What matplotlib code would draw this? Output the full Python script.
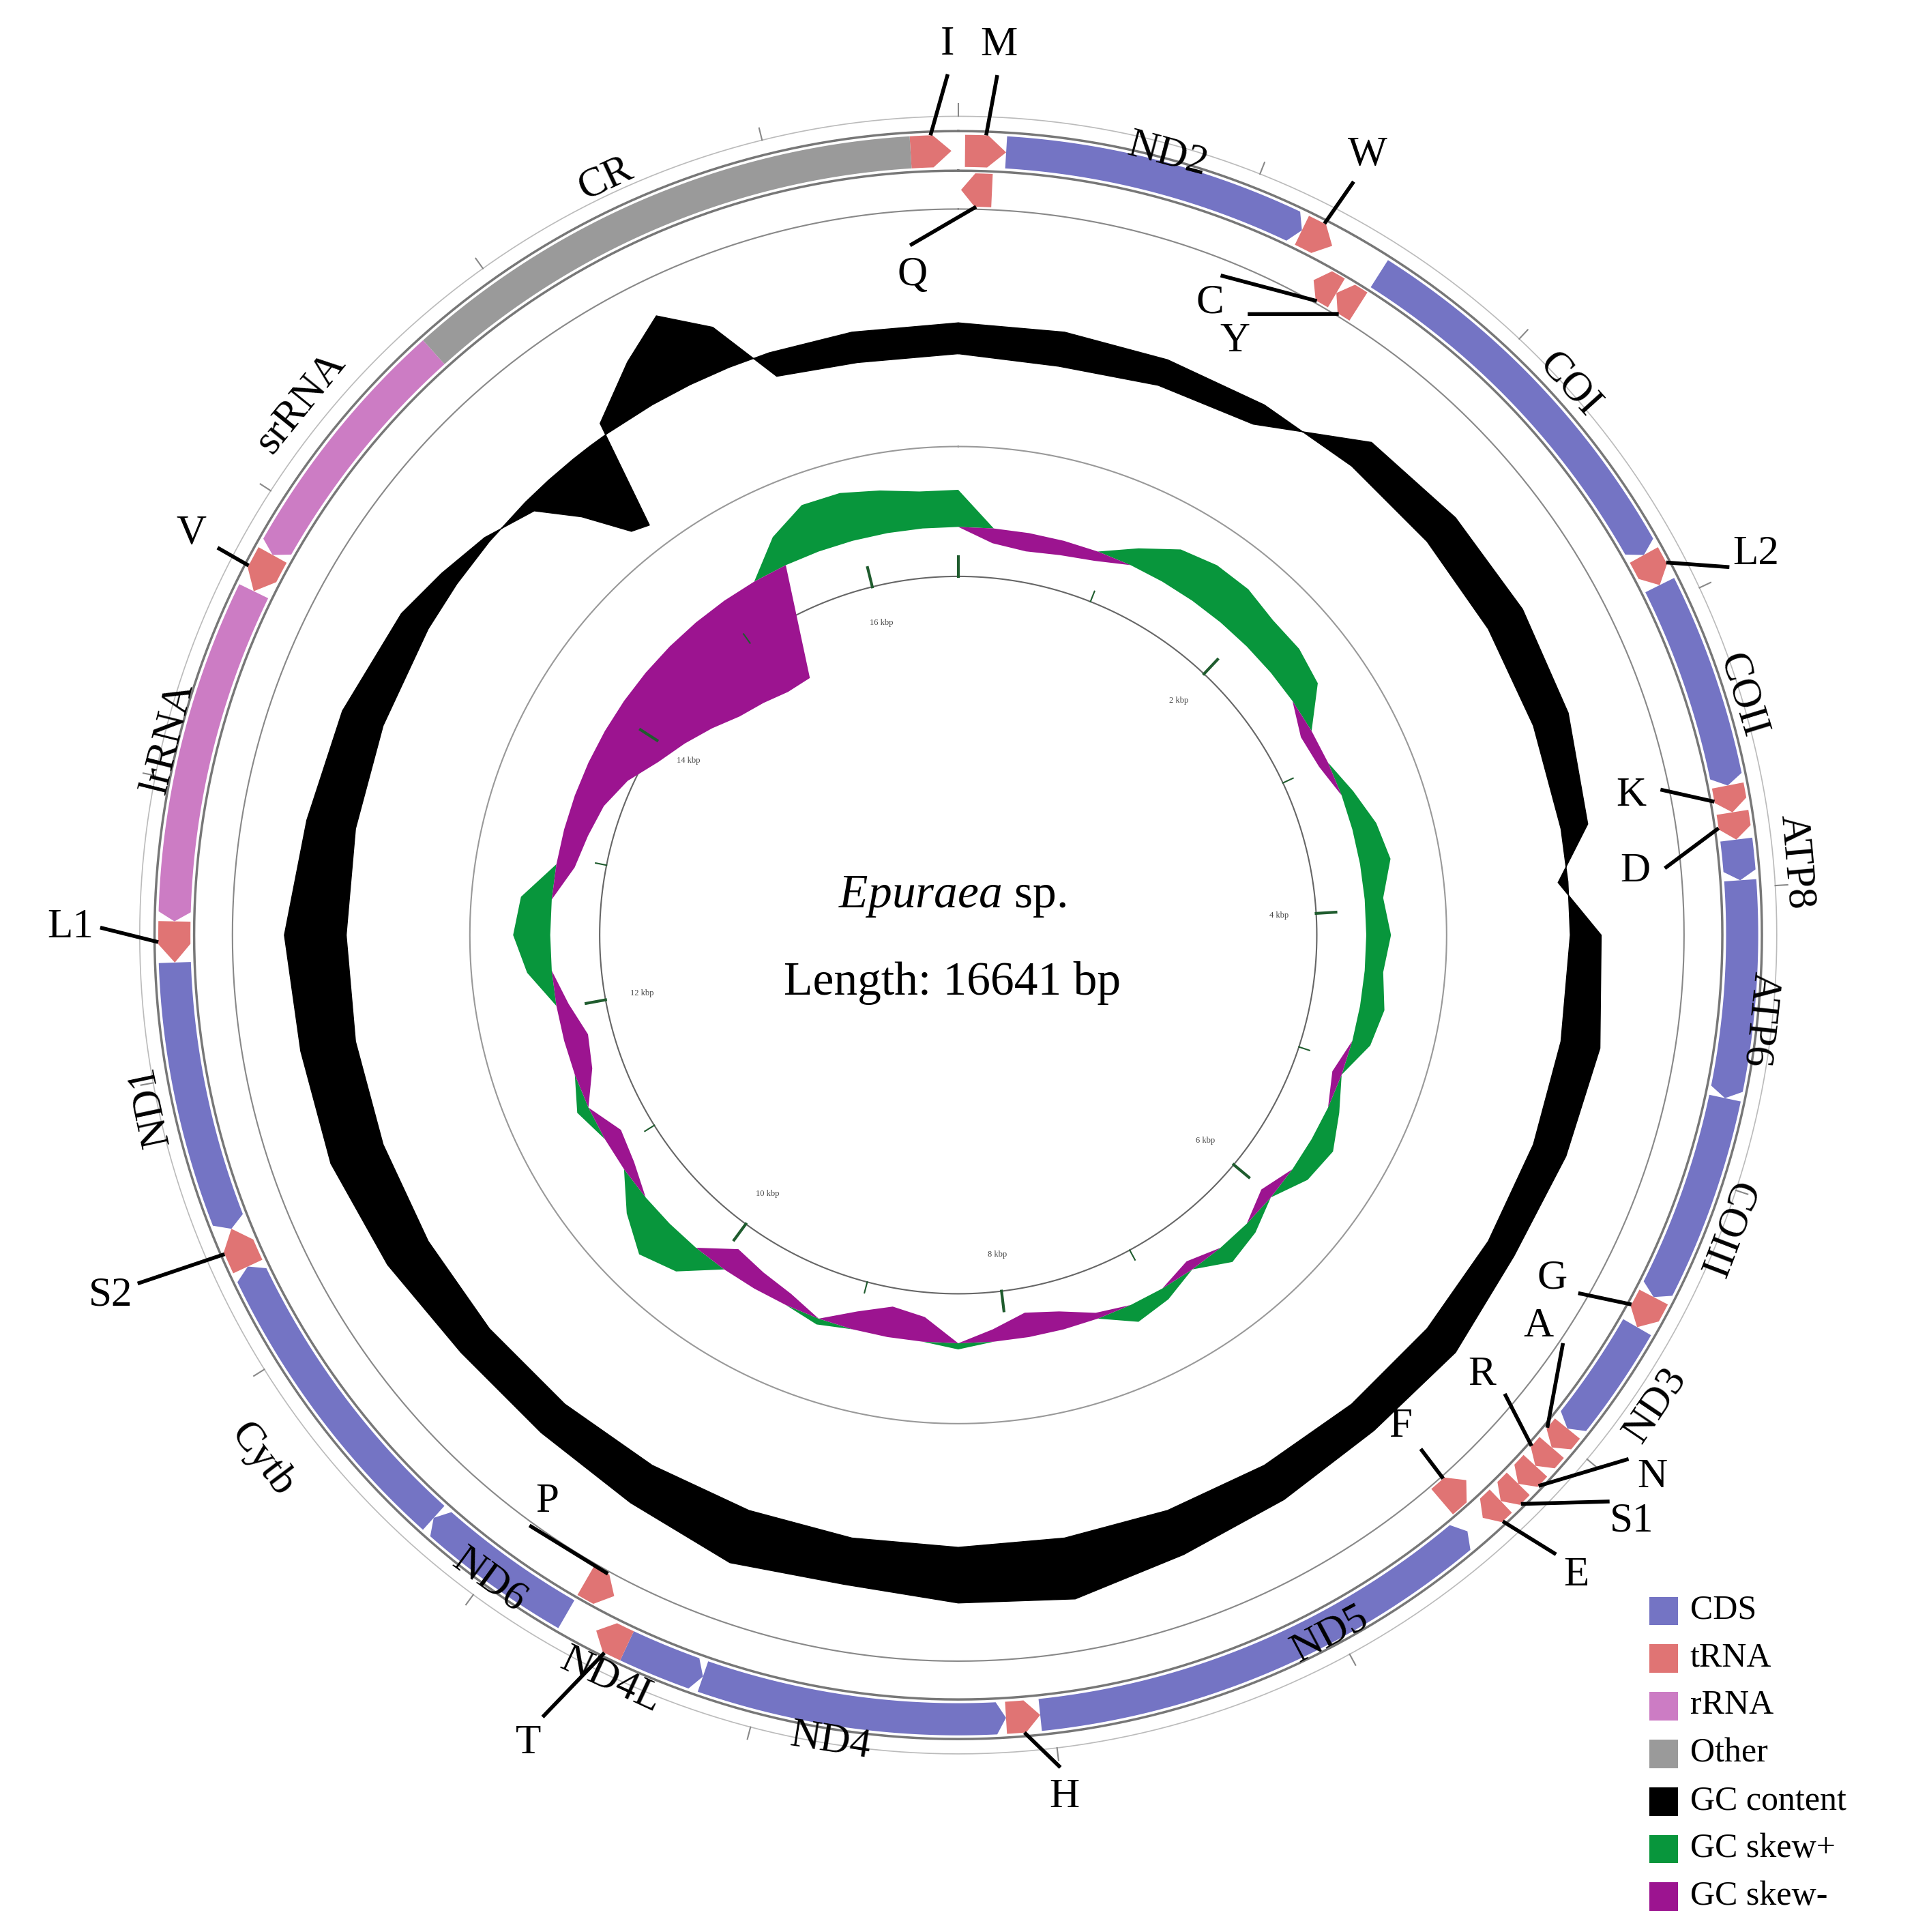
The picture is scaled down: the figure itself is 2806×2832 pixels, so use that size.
import matplotlib.pyplot as plt
import matplotlib.patches as mpatches
import numpy as np

plt.rcParams['font.family'] = ['Liberation Serif', 'DejaVu Serif']
plt.rcParams['mathtext.fontset'] = 'custom'
plt.rcParams['mathtext.it'] = 'Liberation Serif:italic'
plt.rcParams['mathtext.rm'] = 'Liberation Serif'

GENOME_LEN = 16641

# genes: name, start, end, strand, type
gene_names = ['I', 'M', 'Q', 'ND2', 'W', 'C', 'Y', 'COI', 'L2', 'COII', 'K', 'D',
              'ATP8', 'ATP6', 'COIII', 'G', 'ND3', 'A', 'R', 'N', 'S1', 'E', 'F',
              'ND5', 'H', 'ND4', 'ND4L', 'T', 'P', 'ND6', 'Cytb', 'S2', 'ND1', 'L1',
              'lrRNA', 'V', 'srRNA', 'CR']
gene_start = [16480, 23, 10, 162, 1202, 1317, 1410, 1502, 2820, 2935, 3652, 3744,
              3837, 3975, 4715, 5431, 5547, 5963, 6046, 6129, 6213, 6296, 6333,
              6448, 8043, 8159, 9199, 9476, 9592, 9707, 10262, 11325, 11464, 12388,
              12527, 13683, 13821, 14700]
gene_end = [16618, 162, 120, 1202, 1317, 1410, 1502, 2820, 2935, 3652, 3744, 3837,
            3975, 4715, 5431, 5547, 5963, 6046, 6129, 6213, 6296, 6379, 6448,
            8043, 8159, 9199, 9476, 9592, 9707, 10262, 11325, 11464, 12388, 12527,
            13683, 13821, 14700, 16480]
gene_strand = [1, 1, -1, 1, 1, -1, -1, 1, 1, 1, 1, 1,
               1, 1, 1, 1, 1, 1, 1, 1, 1, 1, -1,
               -1, -1, -1, -1, 1, -1, 1, 1, 1, -1, -1,
               -1, -1, -1, 0]
gene_type = ['tRNA', 'tRNA', 'tRNA', 'CDS', 'tRNA', 'tRNA', 'tRNA', 'CDS', 'tRNA', 'CDS',
             'tRNA', 'tRNA', 'CDS', 'CDS', 'CDS', 'tRNA', 'CDS', 'tRNA', 'tRNA', 'tRNA',
             'tRNA', 'tRNA', 'tRNA', 'CDS', 'tRNA', 'CDS', 'CDS', 'tRNA', 'tRNA', 'CDS',
             'CDS', 'tRNA', 'CDS', 'tRNA', 'rRNA', 'tRNA', 'rRNA', 'Other']
inner_ring = ['Q', 'C', 'Y', 'F', 'P']

# GC content deviation (outward +) and GC skew, sampled along the genome (degrees)
gc_angle = [0, 10, 20, 30, 40, 50, 60, 70, 80, 85, 90, 100, 110, 120, 130, 140, 150,
            160, 170, 180, 190, 200, 210, 220, 230, 240, 250, 260, 270, 280, 290,
            300, 305, 310, 315, 318, 321, 323, 325, 330, 334, 338, 342, 350, 360]
gc_dev = [-25, -28, -22, -18, 25, 30, 32, 30, 22, -8, 25, 32, 28, 24, 30, 28, 32,
          38, 50, 45, 38, 45, 35, 30, 30, 38, 45, 45, 50, 40, 35,
          25, 15, 5, -10, -40, -75, -80, 10, 40, 62, 35, -20, -25, -25]

skew_angle = list(range(0, 365, 5))
skew_val = [30, -12, -15, -12, -8, 15, 30, 35, 35, 30, 30, 25, -10, -8, 10, 20, 25, 15,
            20, 15, 20, 15, -8, 10, 20, 15, -10, 10, 15, -8, 10, 15, -5, -15, -20, -10,
            5, -20, -25, -15, 5, -10, -15, -20, 25, 35, 20, -10, -15, 10, -15, -20, -10,
            20, 30, 25, -15, -20, -25, -35, -50, -60, -70, -80, -85, -90, -90, 25, 40,
            40, 35, 30, 30]

legend_labels = ['CDS', 'tRNA', 'rRNA', 'Other', 'GC content', 'GC skew+', 'GC skew-']
colors = {'CDS': '#7474c4', 'tRNA': '#e07474', 'rRNA': '#cc7cc4', 'Other': '#9a9a9a',
          'GC content': '#000000', 'GC skew+': '#08963c', 'GC skew-': '#9c1490'}

# label layout: name -> (angle deg, radius)
gene_label_pos = {'ND2': (15, 653), 'COI': (48, 665), 'COII': (73, 663), 'ATP8': (85, 680),
                  'ATP6': (96, 652), 'COIII': (111, 664), 'ND3': (124, 680),
                  'ND5': (152, 640), 'ND4': (189, 660), 'ND4L': (205, 665), 'ND6': (216, 645),
                  'Cytb': (233, 705), 'ND1': (258, 668), 'lrRNA': (284, 658),
                  'srRNA': (309, 684), 'CR': (335, 675)}
trna_label_pos = {'I': (359.3, 720), 'M': (2.6, 720), 'Q': (356, 535), 'W': (27.7, 712),
                  'C': (21.7, 550), 'Y': (25, 530), 'L2': (64.5, 715), 'K': (78.3, 556),
                  'D': (84.6, 550), 'G': (120, 555), 'A': (124, 566), 'R': (130, 553),
                  'F': (138, 535), 'N': (128, 712), 'S1': (131, 722), 'E': (136, 720),
                  'H': (173, 702), 'T': (208, 740), 'P': (216, 566), 'S2': (247, 745),
                  'L1': (270.5, 718), 'V': (297.6, 700)}

cx, cy = 775, 756
R_OUT, R_MID, R_IN = 650, 618, 587
R_GC = 495
R_SKEW = 330
R_TICK = 290


def xy(ang, r):
    a = np.radians(ang)
    return cx + r * np.sin(a), cy - r * np.cos(a)


def bp2deg(bp):
    return bp / GENOME_LEN * 360.0


fig = plt.figure(figsize=(28.06, 28.32), dpi=100)
ax = fig.add_axes([0, 0, 1, 1])
ax.set_xlim(0, 1548)
ax.set_ylim(1562, 0)
ax.axis('off')

# thin circles
for r, c, lw in [(R_OUT, '#777777', 2.5), (R_MID, '#777777', 2.5), (R_IN, '#888888', 1.5),
                 (662, '#bbbbbb', 1.2), (395, '#999999', 1.5), (R_TICK, '#666666', 1.5)]:
    t = np.linspace(0, 360, 721)
    px, py = xy(t, r)
    ax.plot(px, py, color=c, lw=lw, zorder=2)

# small ticks on outer thin circle
for k in range(0, GENOME_LEN, 1000):
    a = bp2deg(k)
    x0, y0 = xy(a, 662)
    x1, y1 = xy(a, 672)
    ax.plot([x0, x1], [y0, y1], color='#888888', lw=1.5)


def arc_arrow(a0, a1, r0, r1, strand, color, head_max):
    head = min(head_max, (a1 - a0) * 0.45)
    mid = (r0 + r1) / 2
    if strand == 1:
        body = np.linspace(a0, a1 - head, 60)
        ox, oy = xy(body, r1)
        ix, iy = xy(body[::-1], r0)
        tipx, tipy = xy(a1, mid)
        px = np.concatenate([ox, [tipx], ix])
        py = np.concatenate([oy, [tipy], iy])
    elif strand == -1:
        body = np.linspace(a0 + head, a1, 60)
        ox, oy = xy(body, r1)
        ix, iy = xy(body[::-1], r0)
        tipx, tipy = xy(a0, mid)
        px = np.concatenate([ox, ix, [tipx]])
        py = np.concatenate([oy, iy, [tipy]])
    else:
        body = np.linspace(a0, a1, 60)
        ox, oy = xy(body, r1)
        ix, iy = xy(body[::-1], r0)
        px = np.concatenate([ox, ix])
        py = np.concatenate([oy, iy])
    ax.add_patch(mpatches.Polygon(np.column_stack([px, py]), closed=True,
                                  facecolor=color, edgecolor='none', zorder=3))


gene_mid = {}
for n, s, e, st, ty in zip(gene_names, gene_start, gene_end, gene_strand, gene_type):
    a0, a1 = bp2deg(s), bp2deg(e)
    if n in inner_ring:
        r0, r1 = R_IN + 2, R_MID - 2
    else:
        r0, r1 = R_MID + 3, R_OUT - 3
    arc_arrow(a0, a1, r0, r1, st, colors[ty], 1.4 if ty == 'tRNA' else 0.7)
    gene_mid[n] = ((a0 + a1) / 2, r0, r1)

# GC content
ga = np.array(gc_angle, dtype=float)
gd = np.array(gc_dev, dtype=float)
ox, oy = xy(ga, R_GC + gd)
bx, by = xy(ga[::-1], np.full(len(ga), R_GC))
ax.add_patch(mpatches.Polygon(np.column_stack([np.concatenate([ox, bx]),
                                               np.concatenate([oy, by])]),
                              closed=True, facecolor='black', edgecolor='black', lw=1, zorder=3))

# GC skew
sa = np.array(skew_angle, dtype=float)
sv = np.array(skew_val, dtype=float)
for sign, key in [(1, 'GC skew+'), (-1, 'GC skew-')]:
    v = np.where(sign * sv > 0, sv, 0)
    ox, oy = xy(sa, R_SKEW + v)
    bx, by = xy(sa[::-1], np.full(len(sa), R_SKEW))
    ax.add_patch(mpatches.Polygon(np.column_stack([np.concatenate([ox, bx]),
                                                   np.concatenate([oy, by])]),
                                  closed=True, facecolor=colors[key], edgecolor='none', zorder=3))

# inner ticks and kbp labels
for k in range(0, 17):
    a = bp2deg(k * 1000)
    ln = 16 if k % 2 == 0 else 9
    x0, y0 = xy(a, R_TICK)
    x1, y1 = xy(a, R_TICK + ln)
    ax.plot([x0, x1], [y0, y1], color='#1f5c2e', lw=3 if k % 2 == 0 else 1.5, zorder=4)
    if k % 2 == 0 and k > 0:
        tx, ty = xy(a, R_TICK - 30)
        ax.text(tx, ty, f'{k} kbp', fontsize=9, ha='center', va='center', color='#444444')

# gene labels
for n, (a, r) in gene_label_pos.items():
    a_m = a % 360
    rot = 180 - a_m if 118 < a_m < 250 else -a_m
    tx, ty = xy(a, r)
    ax.text(tx, ty, n, fontsize=44, ha='center', va='center', rotation=rot,
            rotation_mode='anchor', zorder=5)

# tRNA labels with leader lines
for n, (a, r) in trna_label_pos.items():
    gm, r0, r1 = gene_mid[n]
    outward = r > r1
    start_r = r1 if outward else r0
    end_r = r - 24 if outward else r + 24
    x0, y0 = xy(gm, start_r)
    x1, y1 = xy(a, end_r)
    ax.plot([x0, x1], [y0, y1], color='black', lw=4, zorder=5, solid_capstyle='butt')
    tx, ty = xy(a, r)
    ax.text(tx, ty, n, fontsize=44, ha='center', va='center', zorder=5)

# center text
ax.text(770, 725, r'$\mathit{Epuraea}$ sp.', fontsize=50, ha='center', va='center')
ax.text(770, 795, 'Length: 16641 bp', fontsize=50, ha='center', va='center')

# legend
for i, lab in enumerate(legend_labels):
    y = 1302 + 38.5 * i
    ax.add_patch(mpatches.Rectangle((1334, y - 11), 23, 23, facecolor=colors[lab],
                                    edgecolor='none'))
    ax.text(1367, y, lab, fontsize=36, ha='left', va='center')

fig.savefig('out.png', dpi=100)
